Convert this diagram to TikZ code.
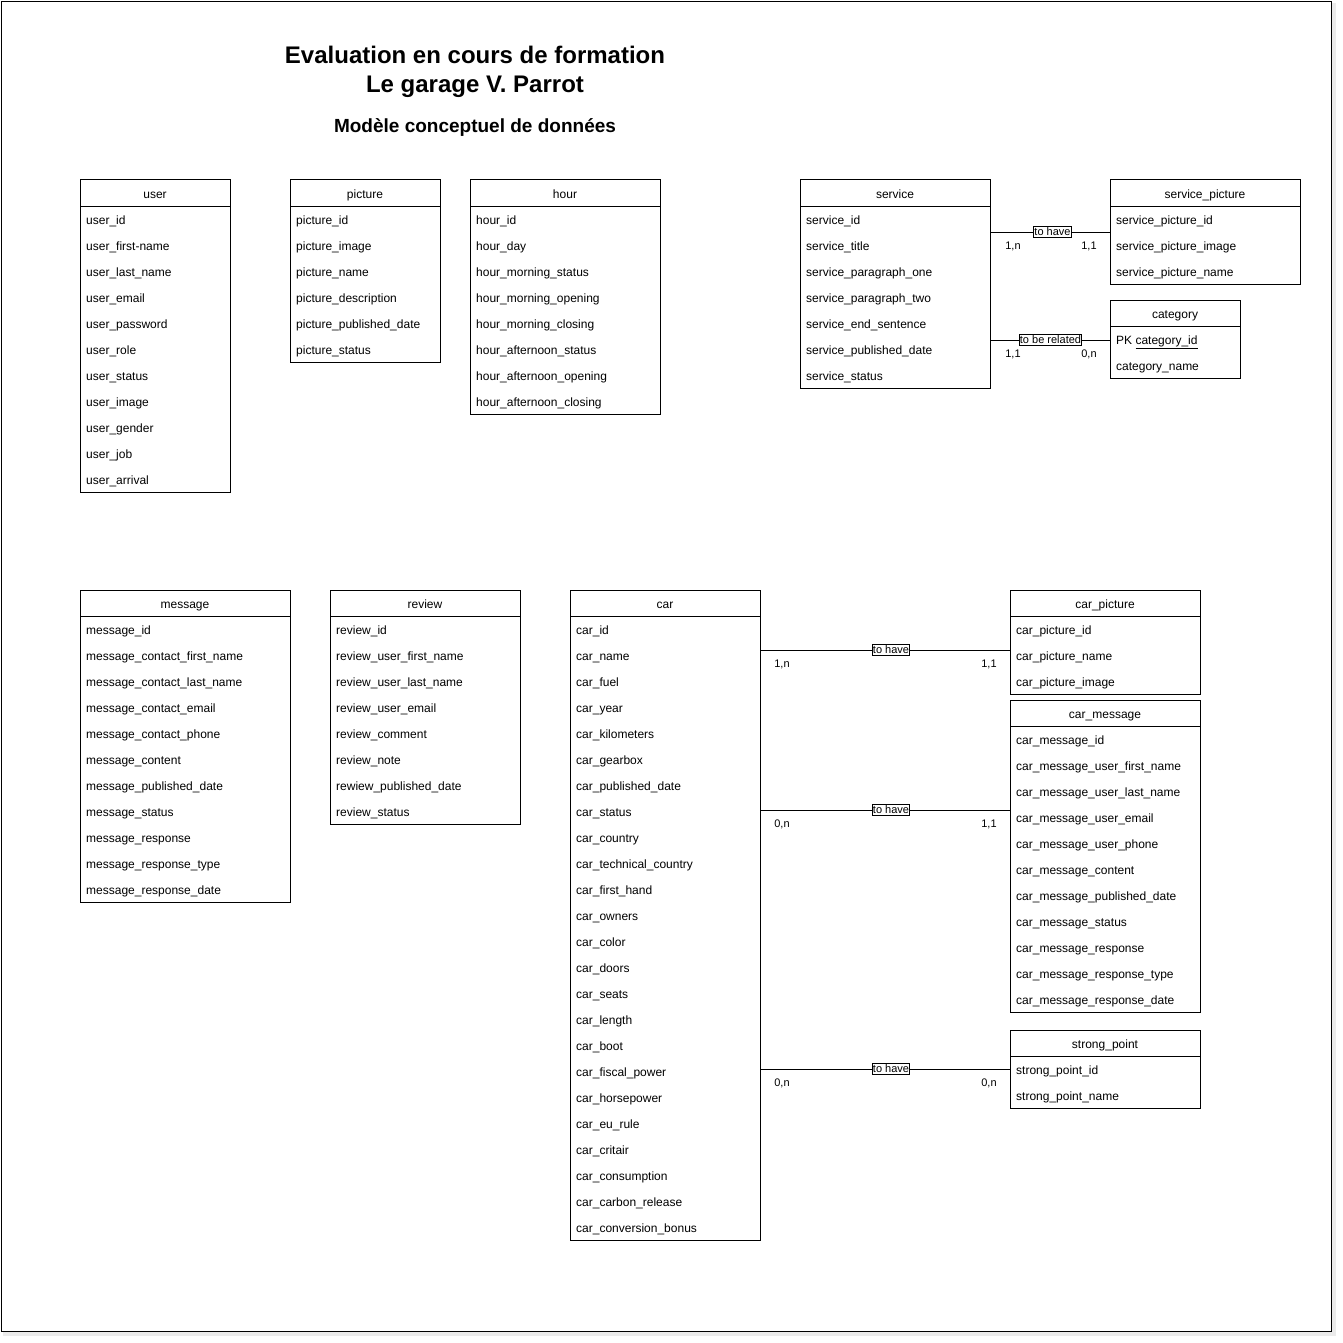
\documentclass[tikz,border=0pt]{standalone}
\usepackage{fontspec}
\setmainfont{Liberation Sans}
\begin{document}
\begin{tikzpicture}[x=1pt,y=-1pt,
  frame/.style={draw=black,line width=1.2pt,fill=white},
  tbl/.style={draw=black,line width=1pt,anchor=north west,inner sep=0pt,outer sep=0pt},
  hdr/.style={font=\fontsize{12}{14}\selectfont,inner sep=0pt,anchor=base},
  attr/.style={font=\fontsize{12}{14}\selectfont,anchor=base west,inner sep=0pt},
  rel/.style={draw=black,line width=0.8pt,font=\fontsize{11}{12}\selectfont,inner sep=0.8pt,text height=8pt,text depth=2pt,fill=white},
  card/.style={font=\fontsize{11}{12}\selectfont,inner sep=0pt,anchor=base},
  link/.style={draw=black,line width=1pt},
  ttl/.style={font=\bfseries\fontsize{24}{28}\selectfont,anchor=base,inner sep=0pt},
  sub/.style={font=\bfseries\fontsize{19}{22}\selectfont,anchor=base,inner sep=0pt}]
\useasboundingbox (0,0) rectangle (1343,1343);
% frame with shadow
\fill[black!15] (4,4) rectangle (1335,1335);
\fill[black!8] (3,3) rectangle (1336,1336);
\node[frame,minimum width=1330pt,minimum height=1330pt,anchor=north west,inner sep=0pt] (frm) at (0.6,0.6) {};
% titles
\node[ttl] (t1) at (475,64) {Evaluation en cours de formation};
\node[ttl] (t2) at (475,93) {Le garage V. Parrot};
\node[sub] (t3) at (475,133) {Modèle conceptuel de données};
% table macro: name, x, y, width, nrows, title, rows
\newcommand{\ertable}[7]{%
  \node[tbl,minimum width=#4pt,minimum height={(26+26*#5)*1pt}] (#1) at (#2,#3) {};
  \node[hdr] (#1-h) at ({#2+#4/2},{#3+18}) {#6};
  \draw[line width=1pt] ({#2},{#3+26}) -- ({#2+#4},{#3+26});
  \foreach \t [count=\i from 0] in {#7} {
    \node[attr] (#1-\i) at ({#2+6},{#3+44.5+26*\i}) {\t};
  }
}
\ertable{user}{80}{180}{150}{11}{user}{user\_id,user\_first-name,user\_last\_name,user\_email,user\_password,user\_role,user\_status,user\_image,user\_gender,user\_job,user\_arrival}
\ertable{picture}{290}{180}{150}{6}{picture}{picture\_id,picture\_image,picture\_name,picture\_description,picture\_published\_date,picture\_status}
\ertable{hour}{470}{180}{190}{8}{hour}{hour\_id,hour\_day,hour\_morning\_status,hour\_morning\_opening,hour\_morning\_closing,hour\_afternoon\_status,hour\_afternoon\_opening,hour\_afternoon\_closing}
\ertable{service}{800}{180}{190}{7}{service}{service\_id,service\_title,service\_paragraph\_one,service\_paragraph\_two,service\_end\_sentence,service\_published\_date,service\_status}
\ertable{spic}{1110}{180}{190}{3}{service\_picture}{service\_picture\_id,service\_picture\_image,service\_picture\_name}
\ertable{category}{1110}{300}{130}{2}{category}{{PK \underline{category\_id}},category\_name}
\ertable{message}{80}{590}{210}{11}{message}{message\_id,message\_contact\_first\_name,message\_contact\_last\_name,message\_contact\_email,message\_contact\_phone,message\_content,message\_published\_date,message\_status,message\_response,message\_response\_type,message\_response\_date}
\ertable{review}{330}{590}{190}{8}{review}{review\_id,review\_user\_first\_name,review\_user\_last\_name,review\_user\_email,review\_comment,review\_note,rewiew\_published\_date,review\_status}
\ertable{car}{570}{590}{190}{24}{car}{car\_id,car\_name,car\_fuel,car\_year,car\_kilometers,car\_gearbox,car\_published\_date,car\_status,car\_country,car\_technical\_country,car\_first\_hand,car\_owners,car\_color,car\_doors,car\_seats,car\_length,car\_boot,car\_fiscal\_power,car\_horsepower,car\_eu\_rule,car\_critair,car\_consumption,car\_carbon\_release,car\_conversion\_bonus}
\ertable{cpic}{1010}{590}{190}{3}{car\_picture}{car\_picture\_id,car\_picture\_name,car\_picture\_image}
\ertable{cmsg}{1010}{700}{190}{11}{car\_message}{car\_message\_id,car\_message\_user\_first\_name,car\_message\_user\_last\_name,car\_message\_user\_email,car\_message\_user\_phone,car\_message\_content,car\_message\_published\_date,car\_message\_status,car\_message\_response,car\_message\_response\_type,car\_message\_response\_date}
\ertable{strong}{1010}{1030}{190}{2}{strong\_point}{strong\_point\_id,strong\_point\_name}
% relations
\node[rel] (r1) at (1052.5,232) {to have};
\draw[link] (service.east |- r1) -- (r1) -- (spic.west |- r1);
\node[card] (c1a) at (1013,249) {1,n};
\node[card] (c1b) at (1089,249) {1,1};
\node[rel] (r2) at (1050.5,340) {to be related};
\draw[link] (service.east |- r2) -- (r2) -- (category.west |- r2);
\node[card] (c2a) at (1013,357) {1,1};
\node[card] (c2b) at (1089,357) {0,n};
\node[rel] (r3) at (891,650) {to have};
\draw[link] (car.east |- r3) -- (r3) -- (cpic.west |- r3);
\node[card] (c3a) at (782,667) {1,n};
\node[card] (c3b) at (989,667) {1,1};
\node[rel] (r4) at (891,810) {to have};
\draw[link] (car.east |- r4) -- (r4) -- (cmsg.west |- r4);
\node[card] (c4a) at (782,827) {0,n};
\node[card] (c4b) at (989,827) {1,1};
\node[rel] (r5) at (891,1069) {to have};
\draw[link] (car.east |- r5) -- (r5) -- (strong.west |- r5);
\node[card] (c5a) at (782,1086) {0,n};
\node[card] (c5b) at (989,1086) {0,n};
\end{tikzpicture}
\end{document}
